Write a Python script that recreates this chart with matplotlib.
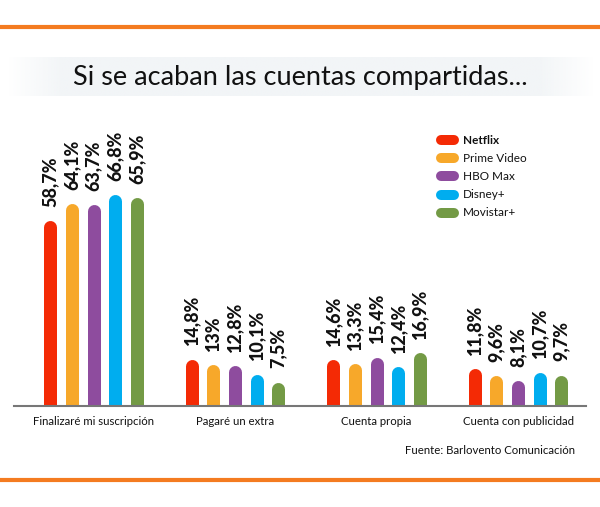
import numpy as np
import matplotlib.pyplot as plt
from matplotlib.lines import Line2D

# --------------------------------------------
# Data
# --------------------------------------------
categories = ["Finalizaré mi suscripción", "Pagaré un extra",
              "Cuenta propia", "Cuenta con publicidad"]
platforms = ["Netflix", "Prime Video", "HBO Max", "Disney+", "Movistar+"]

netflix = [58.7, 14.8, 14.6, 11.8]
prime = [64.1, 13.0, 13.3, 9.6]
hbo = [63.7, 12.8, 15.4, 8.1]
disney = [66.8, 10.1, 12.4, 10.7]
movistar = [65.9, 7.5, 16.9, 9.7]
series = [netflix, prime, hbo, disney, movistar]

colors = ["#f42a05", "#f7a82a", "#8e4c9e", "#00adef", "#739a45"]
orange = "#f47b20"

# --------------------------------------------
# Figure
# --------------------------------------------
W, H = 600, 507
fig = plt.figure(figsize=(6, 5.07), dpi=100)
fig.patch.set_facecolor("white")

def fx(px):
    return px / W

def fy(py):
    return 1 - py / H

# orange rules
for y in (27, 480):
    fig.add_artist(Line2D([0, 1], [fy(y), fy(y)], color=orange, lw=3.0,
                          transform=fig.transFigure))

# title band with soft edges
band = fig.add_axes([fx(7), fy(96), fx(588), (96 - 57) / H])
grad = np.ones((1, 200))
ramp = np.linspace(0, 1, 20)
grad[0, :20] = ramp
grad[0, -20:] = ramp[::-1]
rgba = np.zeros((1, 200, 4))
rgba[..., :3] = np.array([0xf2, 0xf5, 0xf7]) / 255
rgba[..., 3] = grad
band.imshow(rgba, aspect="auto", extent=[0, 1, 0, 1])
band.axis("off")

fig.text(0.5, fy(77), "Si se acaban las cuentas compartidas...",
         ha="center", va="center", fontsize=19.5, family="Lato", color="#111111")

# --------------------------------------------
# Bars
# --------------------------------------------
ax = fig.add_axes([fx(14), fy(406), fx(572), 280 / H])
group_pos = np.arange(len(categories))
ax.set_xlim(-0.562, 3.48)
ax.set_ylim(0, 280 / 3.16)
ax.axis("off")

bar_px = 13
step = 0.153
lw_pt = bar_px * 72 / 100
cap = (bar_px / 2) / 3.16  # data units of the rounded cap

for i, (vals, c) in enumerate(zip(series, colors)):
    xs = group_pos + (i - 2) * step
    for x, v in zip(xs, vals):
        ax.plot([x, x], [-5, v - cap], color=c, lw=lw_pt,
                solid_capstyle="round", clip_on=True)
        lab = f"{v:.1f}".replace(".", ",").replace(",0", "") + "%"
        ax.annotate(lab, (x, v), xytext=(0, 10), textcoords="offset points",
                    rotation=90, ha="center", va="bottom", fontsize=13,
                    fontweight="black", family="Lato", color="#111111")

ax.add_artist(Line2D([0, 1], [0, 0], color="#777777", lw=1.5,
                     transform=ax.transAxes, clip_on=False))

for x, name in zip(group_pos, categories):
    ax.annotate(name, (x, 0), xytext=(0, -11), textcoords="offset points",
                ha="center", va="center", fontsize=8.2, family="Lato",
                color="#111111")

# --------------------------------------------
# Legend
# --------------------------------------------
for i, (name, c) in enumerate(zip(platforms, colors)):
    y = 140 + i * 18.2
    fig.add_artist(Line2D([fx(441), fx(454)], [fy(y), fy(y)], color=c,
                          lw=7.2, solid_capstyle="round",
                          transform=fig.transFigure))
    fig.text(fx(463), fy(y), name, ha="left", va="center", fontsize=8.5,
             family="Lato", color="#111111",
             fontweight="bold" if i == 0 else "normal")

fig.text(fx(575), fy(450), "Fuente: Barlovento Comunicación", ha="right",
         va="center", fontsize=8.2, family="Lato", color="#111111")

fig.savefig("out.png", dpi=100)
